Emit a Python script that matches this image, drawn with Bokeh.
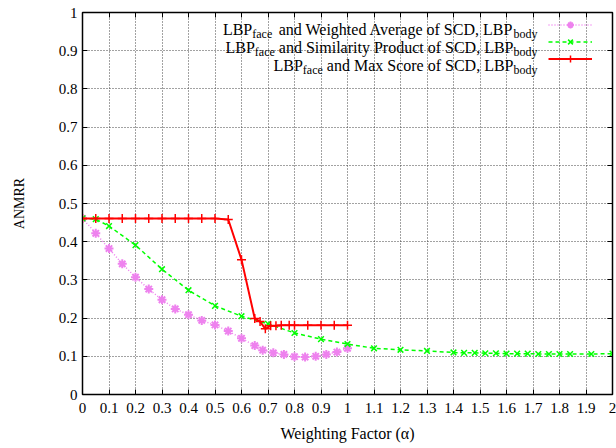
from bokeh.plotting import figure
from bokeh.models import (FixedTicker, CustomJSTickFormatter, LinearAxis, Range1d,
                          Legend, LegendItem, Label)
from bokeh.core.properties import value
from bokeh.embed import file_html
from bokeh.resources import INLINE

# ---------------- data ----------------
x_ticks = [0, 0.1, 0.2, 0.3, 0.4, 0.5, 0.6, 0.7, 0.8, 0.9, 1.0,
           1.1, 1.2, 1.3, 1.4, 1.5, 1.6, 1.7, 1.8, 1.9, 2.0]
x_tick_labels = ["0", "0.1", "0.2", "0.3", "0.4", "0.5", "0.6", "0.7", "0.8", "0.9", "1",
                 "1.1", "1.2", "1.3", "1.4", "1.5", "1.6", "1.7", "1.8", "1.9", "2"]
y_ticks = [0, 0.1, 0.2, 0.3, 0.4, 0.5, 0.6, 0.7, 0.8, 0.9, 1.0]
y_tick_labels = ["0", "0.1", "0.2", "0.3", "0.4", "0.5", "0.6", "0.7", "0.8", "0.9", "1"]

x_axis_title = "Weighting Factor (α)"
y_axis_title = "ANMRR"

wavg_x = [0, 0.05, 0.1, 0.15, 0.2, 0.25, 0.3, 0.35, 0.4, 0.45, 0.5, 0.55, 0.6, 0.65,
          0.68, 0.72, 0.76, 0.8, 0.84, 0.88, 0.92, 0.96, 1.0]
wavg_y = [0.461, 0.422, 0.382, 0.342, 0.307, 0.276, 0.248, 0.224, 0.209, 0.194, 0.182, 0.166,
          0.147, 0.128, 0.116, 0.109, 0.105, 0.099, 0.098, 0.100, 0.105, 0.111, 0.121]

simprod_x = [0, 0.05, 0.1, 0.2, 0.3, 0.4, 0.5, 0.6, 0.7, 0.8, 0.9, 1.0, 1.1, 1.2, 1.3,
             1.4, 1.44, 1.48, 1.52, 1.56, 1.6, 1.64, 1.68, 1.72, 1.76, 1.8, 1.84, 1.92, 2.0]
simprod_y = [0.461, 0.459, 0.441, 0.391, 0.328, 0.273, 0.232, 0.205, 0.185, 0.161, 0.145,
             0.132, 0.121, 0.117, 0.114, 0.110, 0.109, 0.109, 0.108, 0.108, 0.107, 0.107,
             0.107, 0.106, 0.106, 0.106, 0.106, 0.106, 0.107]

maxs_x = [0, 0.05, 0.1, 0.15, 0.2, 0.25, 0.3, 0.35, 0.4, 0.45, 0.5, 0.55, 0.6, 0.65,
          0.67, 0.69, 0.71, 0.73, 0.75, 0.78, 0.8, 0.85, 0.9, 0.95, 1.0]
maxs_y = [0.461, 0.461, 0.461, 0.461, 0.461, 0.461, 0.461, 0.461, 0.461, 0.461, 0.461,
          0.458, 0.353, 0.199, 0.191, 0.172, 0.180, 0.180, 0.181, 0.181, 0.181, 0.181,
          0.181, 0.181, 0.181]

legend_rows = [
    ("LBP", "face", "and Weighted Average of SCD, LBP", "body"),
    ("LBP", "face", "and Similarity Product of SCD, LBP", "body"),
    ("LBP", "face", "and Max Score of SCD, LBP", "body"),
]

# ---------------- style ----------------
FONT = "Liberation Serif"
PINK = "#ee82ee"
GREEN = "#00ff00"
RED = "#ff0000"

W, H = 616, 448
ML, MR, MT, MB = 82, 4, 12, 54
FRAME_L = ML
FRAME_B = H - MB
SX = (W - ML - MR) / 2.0
SY = (H - MT - MB) / 1.0


def dx(px):
    return (px - FRAME_L) / SX


def dy(py):
    return (FRAME_B - py) / SY


p = figure(width=W, height=H, output_backend="svg", toolbar_location=None,
           x_range=Range1d(0, 2), y_range=Range1d(0, 1),
           min_border_left=ML, min_border_right=MR, min_border_top=MT, min_border_bottom=MB,
           x_axis_label=x_axis_title, y_axis_label=y_axis_title)
p.background_fill_color = "white"
p.border_fill_color = "white"
p.outline_line_color = "black"
p.outline_line_width = 1.5

bottom_ax = p.below[0]
left_ax = p.left[0]

FMT_CODE = """
const i = tv.findIndex(t => Math.abs(t - tick) < 1e-9);
return i >= 0 ? lbl[i] : '';
"""
bottom_ax.ticker = FixedTicker(ticks=x_ticks)
bottom_ax.formatter = CustomJSTickFormatter(args=dict(tv=x_ticks, lbl=x_tick_labels),
                                            code=FMT_CODE)
left_ax.ticker = FixedTicker(ticks=y_ticks)
left_ax.formatter = CustomJSTickFormatter(args=dict(tv=y_ticks, lbl=y_tick_labels),
                                          code=FMT_CODE)

top_ax = LinearAxis(ticker=FixedTicker(ticks=x_ticks),
                    formatter=CustomJSTickFormatter(code="return '';"),
                    major_label_text_font_size="0px", major_label_standoff=0)
right_ax = LinearAxis(ticker=FixedTicker(ticks=y_ticks),
                      formatter=CustomJSTickFormatter(code="return '';"),
                      major_label_text_font_size="0px", major_label_standoff=0)
p.add_layout(top_ax, "above")
p.add_layout(right_ax, "right")

for ax in (bottom_ax, left_ax, top_ax, right_ax):
    ax.major_tick_in = 5
    ax.major_tick_out = 0
    ax.minor_tick_in = 0
    ax.minor_tick_out = 0
    ax.axis_line_color = "black"
    ax.major_tick_line_color = "black"

for ax in (bottom_ax, left_ax):
    ax.major_label_text_font = FONT
    ax.major_label_text_font_size = "15px"
    ax.major_label_text_color = "black"
    ax.axis_label_text_font = FONT
    ax.axis_label_text_font_style = "normal"
    ax.axis_label_text_color = "black"

bottom_ax.major_label_standoff = 8
bottom_ax.axis_label_standoff = 9
bottom_ax.axis_label_text_font_size = "16px"
left_ax.major_label_standoff = 5
left_ax.axis_label_standoff = 29
left_ax.axis_label_text_font_size = "14px"

for g in (p.xgrid[0], p.ygrid[0]):
    g.grid_line_color = "#444444"
    g.grid_line_dash = "1 2"
    g.grid_line_width = 1

# ---------------- series ----------------
l1 = p.line(wavg_x, wavg_y, line_color=PINK, line_width=1.5, line_dash="1 2")
s1 = p.scatter(wavg_x, wavg_y, marker="asterisk", size=9, line_color=PINK, line_width=2)
l2 = p.line(simprod_x, simprod_y, line_color=GREEN, line_width=1.5, line_dash="4 3")
s2 = p.scatter(simprod_x, simprod_y, marker="x", size=8, line_color=GREEN, line_width=1.5)
l3 = p.line(maxs_x, maxs_y, line_color=RED, line_width=2)
s3 = p.scatter(maxs_x, maxs_y, marker="cross", size=9, line_color=RED, line_width=1.5)

ROW_H = 17
LEG_TOP = 16
LEG_LEFT = 548
legend = Legend(items=[LegendItem(label=value(""), renderers=[l1, s1]),
                       LegendItem(label=value(""), renderers=[l2, s2]),
                       LegendItem(label=value(""), renderers=[l3, s3])],
                location=(LEG_LEFT - FRAME_L, FRAME_B - (LEG_TOP + 3 * ROW_H)),
                glyph_width=44, glyph_height=ROW_H, label_width=0, label_height=0,
                label_standoff=0, padding=0, spacing=0, margin=0,
                border_line_color=None, background_fill_alpha=0,
                label_text_font_size="8px")
p.add_layout(legend)

# ---------------- legend texts (with subscripts) ----------------
CW = {' ': 250, ',': 250, '(': 333, ')': 333,
      'A': 722, 'B': 667, 'C': 667, 'D': 722, 'F': 556, 'L': 611, 'M': 889, 'N': 722,
      'P': 556, 'R': 667, 'S': 556, 'W': 944,
      'a': 444, 'b': 500, 'c': 444, 'd': 500, 'e': 444, 'f': 333, 'g': 500, 'h': 500,
      'i': 278, 'k': 500, 'l': 278, 'm': 778, 'n': 500, 'o': 500, 'p': 500, 'r': 333,
      's': 389, 't': 278, 'u': 500, 'v': 500, 'x': 500, 'y': 500}


def tw(s, size):
    return sum(CW.get(c, 500) for c in s) * size / 1000.0


MAIN, SUB = 16, 12
X_END = 537
baselines = [29.3, 47.0, 65.0]
for (pre, sub1, mid, sub2), by in zip(legend_rows, baselines):
    x = X_END
    p.add_layout(Label(x=dx(x), y=dy(by + 4), text=sub2, text_align="right",
                       text_baseline="alphabetic", text_font=FONT,
                       text_font_size=f"{SUB}px", text_color="black"))
    x -= tw(sub2, SUB)
    p.add_layout(Label(x=dx(x), y=dy(by), text=mid, text_align="right",
                       text_baseline="alphabetic", text_font=FONT,
                       text_font_size=f"{MAIN}px", text_color="black"))
    x -= tw(mid, MAIN) + tw(" ", MAIN)
    p.add_layout(Label(x=dx(x), y=dy(by + 4), text=sub1, text_align="right",
                       text_baseline="alphabetic", text_font=FONT,
                       text_font_size=f"{SUB}px", text_color="black"))
    x -= tw(sub1, SUB)
    p.add_layout(Label(x=dx(x), y=dy(by), text=pre, text_align="right",
                       text_baseline="alphabetic", text_font=FONT,
                       text_font_size=f"{MAIN}px", text_color="black"))

open("out.html", "w").write(file_html(p, INLINE))
